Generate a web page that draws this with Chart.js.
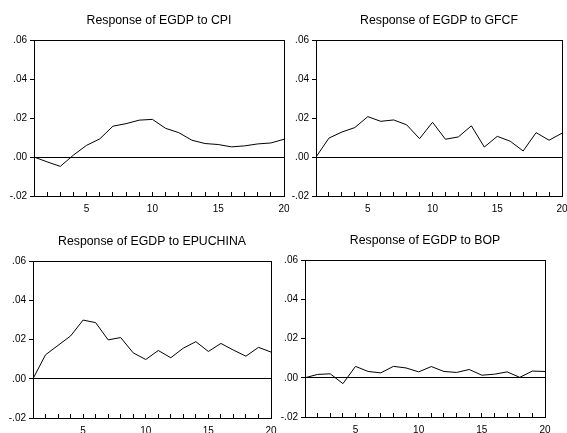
<!DOCTYPE html>
<html>
<head>
<meta charset="utf-8">
<script src="https://cdn.jsdelivr.net/npm/chart.js@4.4.1/dist/chart.umd.min.js"></script>
<style>
  body { margin: 0; background: #fff; width: 567px; height: 433px; position: relative; overflow: hidden; }
  canvas { position: absolute; }
</style>
</head>
<body>
<canvas id="c1"></canvas>
<canvas id="c2"></canvas>
<canvas id="c3"></canvas>
<canvas id="c4"></canvas>
<script>
// Data
const periods = [1, 2, 3, 4, 5, 6, 7, 8, 9, 10, 11, 12, 13, 14, 15, 16, 17, 18, 19, 20];
const cpiResp = [0.0, -0.0025, -0.0048, 0.001, 0.006, 0.0093, 0.0158, 0.0171, 0.0189, 0.0193, 0.0147, 0.0125, 0.0086, 0.0069, 0.0064, 0.0052, 0.0057, 0.0067, 0.0072, 0.0091];
const gfcfResp = [0.0, 0.0097, 0.0128, 0.0151, 0.0207, 0.0183, 0.019, 0.0165, 0.0094, 0.0178, 0.0091, 0.0103, 0.016, 0.0051, 0.0106, 0.0081, 0.0031, 0.0125, 0.0086, 0.0122];
const epuchinaResp = [0.0, 0.0122, 0.017, 0.0218, 0.0299, 0.0286, 0.0198, 0.021, 0.0132, 0.0098, 0.0144, 0.0107, 0.0156, 0.0189, 0.0139, 0.018, 0.0146, 0.0115, 0.016, 0.0136];
const bopResp = [0.0, 0.0017, 0.002, -0.003, 0.0058, 0.0032, 0.0025, 0.0058, 0.005, 0.003, 0.0057, 0.0032, 0.0027, 0.0042, 0.0013, 0.0018, 0.003, 0.0002, 0.0034, 0.0032];
const yTicks = [-0.02, 0.0, 0.02, 0.04, 0.06];
const xTickLabels = [5, 10, 15, 20];

const TITLE_HEIGHT = 40; // space above each plot box
const Y_AXIS_WIDTH = 34;
const X_AXIS_HEIGHT = 22;
const RIGHT_ROOM = 6;
const TITLE_SIZE = 12.3;
const TICK_SIZE = 10;

// Draws the closed box round the plot area
const framePlugin = {
  id: "frame",
  afterDraw(chart) {
    const a = chart.chartArea;
    const ctx = chart.ctx;
    ctx.save();
    ctx.strokeStyle = "#000";
    ctx.lineWidth = 1;
    ctx.strokeRect(Math.round(a.left) + 0.5, Math.round(a.top) + 0.5, Math.round(a.right - a.left), Math.round(a.bottom - a.top));
    ctx.restore();
  },
};

// Format .06 / .00 / -.02 like EViews
function formatY(v) {
  if (Math.abs(v) < 1e-9) return ".00";
  return v.toFixed(2).replace("0.", ".");
}

function makePanel(id, title, values, box) {
  const canvas = document.getElementById(id);
  const w = box.right - box.left + Y_AXIS_WIDTH + RIGHT_ROOM;
  const h = box.bottom - box.top + TITLE_HEIGHT + X_AXIS_HEIGHT;
  canvas.width = w;
  canvas.height = h;
  canvas.style.left = box.left - Y_AXIS_WIDTH + "px";
  canvas.style.top = box.top - TITLE_HEIGHT + "px";
  canvas.style.width = w + "px";
  canvas.style.height = h + "px";

  const lineH = TITLE_SIZE * 1.2;

  new Chart(canvas.getContext("2d"), {
    type: "line",
    data: {
      datasets: [
        {
          data: periods.map((p, i) => ({ x: p, y: values[i] })),
          borderColor: "#000",
          borderWidth: 1,
          pointRadius: 0,
          tension: 0,
          fill: false,
        },
      ],
    },
    options: {
      responsive: false,
      animation: false,
      devicePixelRatio: 1,
      layout: { padding: { left: 0, right: RIGHT_ROOM, top: 0, bottom: 0 } },
      plugins: {
        legend: { display: false },
        tooltip: { enabled: false },
        title: {
          display: true,
          text: title,
          fullSize: false,
          color: "#000",
          font: { family: "'Liberation Sans', Arial, sans-serif", size: TITLE_SIZE, weight: "normal", lineHeight: 1.2 },
          padding: { top: 20.5 - lineH / 2, bottom: TITLE_HEIGHT - (20.5 - lineH / 2) - lineH },
        },
      },
      scales: {
        x: {
          type: "linear",
          min: 1,
          max: 20,
          afterBuildTicks: (s) => { s.ticks = periods.map((v) => ({ value: v })); },
          afterFit: (s) => {
            s.height = X_AXIS_HEIGHT;
            s.paddingLeft = 0;
            s.paddingRight = 0;
          },
          grid: { drawOnChartArea: false, drawTicks: true, tickLength: -4, tickColor: "#000", color: "#000" },
          border: { display: true, color: "#000", width: 1 },
          ticks: {
            autoSkip: false,
            maxRotation: 0,
            padding: 11,
            color: "#000",
            font: { family: "'Liberation Sans', Arial, sans-serif", size: TICK_SIZE },
            callback: (v) => (xTickLabels.includes(v) ? String(v) : ""),
          },
        },
        y: {
          min: -0.02,
          max: 0.06,
          afterBuildTicks: (s) => { s.ticks = yTicks.map((v) => ({ value: v })); },
          afterFit: (s) => {
            s.width = Y_AXIS_WIDTH;
            s.paddingTop = 0;
            s.paddingBottom = 0;
          },
          grid: {
            drawTicks: true,
            tickLength: 4,
            tickColor: "#000",
            lineWidth: 1,
            color: (c) => (c.tick && Math.abs(c.tick.value) < 1e-9 ? "#000" : "rgba(0,0,0,0)"),
          },
          border: { display: true, color: "#000", width: 1 },
          ticks: {
            padding: 3,
            color: "#000",
            font: { family: "'Liberation Sans', Arial, sans-serif", size: TICK_SIZE },
            callback: (v) => formatY(v),
          },
        },
      },
    },
    plugins: [framePlugin],
  });
}

function init() {
  makePanel("c1", "Response of EGDP to CPI", cpiResp, { left: 34, top: 40, right: 284, bottom: 196 });
  makePanel("c2", "Response of EGDP to GFCF", gfcfResp, { left: 316, top: 40, right: 562, bottom: 196 });
  makePanel("c3", "Response of EGDP to EPUCHINA", epuchinaResp, { left: 33, top: 261, right: 271, bottom: 418 });
  makePanel("c4", "Response of EGDP to BOP", bopResp, { left: 305, top: 260, right: 545, bottom: 417 });
}

document.addEventListener("DOMContentLoaded", init);
</script>
</body>
</html>
